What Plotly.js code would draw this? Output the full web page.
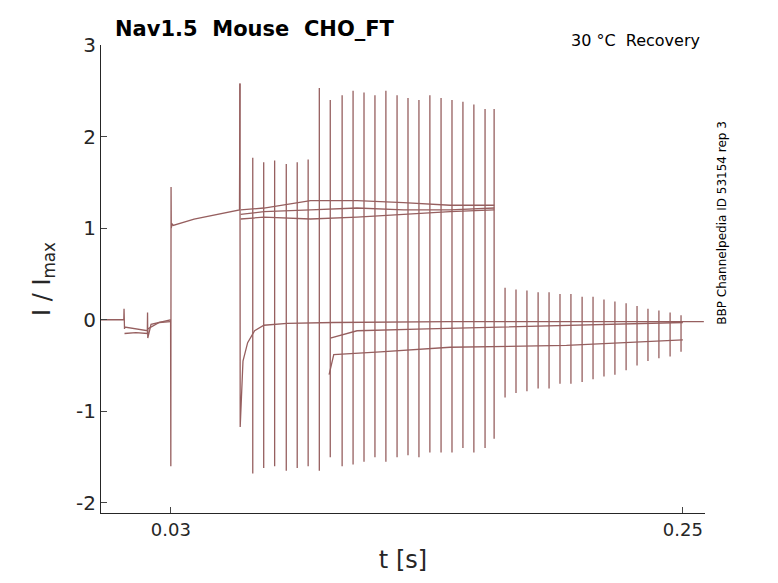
<!DOCTYPE html>
<html><head><script src="https://cdn.plot.ly/plotly-3.0.1.min.js"></script></head>
<body style="margin:0"><div id="c" style="width:778px;height:583px"></div>
<script>
const preT=[0,0.0098,0.0099,0.0100,0.0101,0.0102,0.0199,0.0200,0.0201,0.0215,0.0299,0.0300,0.0301,0.0302,0.0305,0.031,0.04,0.05,0.0595,0.0597];
const preV=[0,0,0.12,-0.1,-0.1,-0.08,-0.12,0.08,-0.2,-0.05,0,-1.6,1.45,1.0,1.05,1.03,1.1,1.15,1.2,2.58];
const pre2T=[0.0101,0.015,0.0199,0.0201,0.025,0.0299];
const pre2V=[-0.15,-0.14,-0.15,-0.1,-0.03,-0.02];
const upT=[0.06,0.07,0.09,0.11,0.13,0.15,0.169];
const up1=[1.2,1.22,1.3,1.3,1.28,1.25,1.25];
const up2=[1.15,1.18,1.2,1.22,1.2,1.2,1.22];
const up3=[1.1,1.12,1.1,1.12,1.15,1.18,1.2];
const lo1T=[0.0597,0.0598,0.061,0.063,0.066,0.07,0.08,0.1,0.15,0.2,0.259];
const lo1V=[2.58,-1.17,-0.45,-0.25,-0.12,-0.06,-0.04,-0.03,-0.02,-0.02,-0.02];
const lo2T=[0.098,0.1,0.12,0.15,0.2,0.25];
const lo2V=[-0.6,-0.38,-0.35,-0.3,-0.28,-0.22];
const lo3T=[0.0985,0.11,0.14,0.17,0.2,0.25];
const lo3V=[-0.2,-0.12,-0.1,-0.08,-0.06,-0.03];
const spT=[0.0652,0.0699,0.0746,0.0796,0.0843,0.0890,0.0938,0.0985,0.1036,0.1083,0.1130,0.1177,0.1224,0.1272,0.1319,0.1366,0.1413,0.1461,0.1508,0.1555,0.1602,0.1650,0.1689];
const spUp=[1.77,1.72,1.74,1.7,1.72,1.75,2.53,2.4,2.45,2.5,2.48,2.45,2.5,2.45,2.42,2.4,2.45,2.42,2.4,2.38,2.35,2.3,2.3];
const spDn=[-1.68,-1.62,-1.6,-1.65,-1.62,-1.6,-1.65,-1.5,-1.6,-1.58,-1.55,-1.5,-1.55,-1.5,-1.48,-1.5,-1.45,-1.45,-1.45,-1.4,-1.45,-1.4,-1.3];
const smT=[0.1736,0.1783,0.1830,0.1878,0.1925,0.1972,0.2019,0.2067,0.2114,0.2161,0.2208,0.2256,0.2303,0.2350,0.2397,0.2445,0.2492];
const smUp=[0.35,0.33,0.32,0.3,0.3,0.28,0.28,0.25,0.25,0.22,0.2,0.18,0.15,0.12,0.1,0.08,0.05];
const smDn=[-0.85,-0.8,-0.78,-0.75,-0.75,-0.7,-0.7,-0.68,-0.65,-0.62,-0.6,-0.55,-0.5,-0.45,-0.42,-0.4,-0.35];
const col='rgb(150,95,95)';
function ln(x,y){return {x:x,y:y,type:'scatter',mode:'lines',line:{color:col,width:1.3},hoverinfo:'none'};}
function spikes(t,u,d){const x=[],y=[];t.forEach((v,i)=>{x.push(v,v,null);y.push(d[i],u[i],null);});return ln(x,y);}
const data=[ln(preT,preV),ln(pre2T,pre2V),ln(upT,up1),ln(upT,up2),ln(upT,up3),ln(lo1T,lo1V),ln(lo2T,lo2V),ln(lo3T,lo3V),spikes(spT,spUp,spDn),spikes(smT,smUp,smDn)];
const f='DejaVu Sans, sans-serif';
const layout={width:778,height:583,showlegend:false,paper_bgcolor:'white',plot_bgcolor:'white',
margin:{l:101,r:73,t:45,b:70},font:{family:f,color:'#262626'},
xaxis:{range:[0,0.2595],tickvals:[0.03,0.25],ticktext:['0.03','0.25'],ticks:'inside',ticklen:6,showgrid:false,zeroline:false,showline:true,linecolor:'#262626',tickfont:{size:18},title:{text:'t [s]',font:{size:24},standoff:12}},
yaxis:{range:[-2.11,3],tickvals:[-2,-1,0,1,2,3],ticktext:['-2','-1','0','1','2','3'],ticks:'inside',ticklen:6,showgrid:false,zeroline:false,showline:true,linecolor:'#262626',tickfont:{size:20},title:{text:'I / I<sub>max</sub>',font:{size:24},standoff:18}},
annotations:[
{xref:'paper',yref:'paper',x:0.02,y:1.005,yanchor:'bottom',xanchor:'left',text:'<b>Nav1.5  Mouse  CHO_FT</b>',showarrow:false,font:{size:21,color:'black'}},
{xref:'paper',yref:'paper',x:0.995,y:1.01,yanchor:'middle',xanchor:'right',text:'30 °C  Recovery',showarrow:false,font:{size:16,color:'black'}},
{xref:'paper',yref:'paper',x:1.028,y:0.62,xanchor:'center',yanchor:'middle',textangle:-90,text:'BBP Channelpedia ID 53154 rep 3',showarrow:false,font:{size:12,color:'black'}}
]};
Plotly.newPlot('c',data,layout,{staticPlot:true});
</script></body></html>
